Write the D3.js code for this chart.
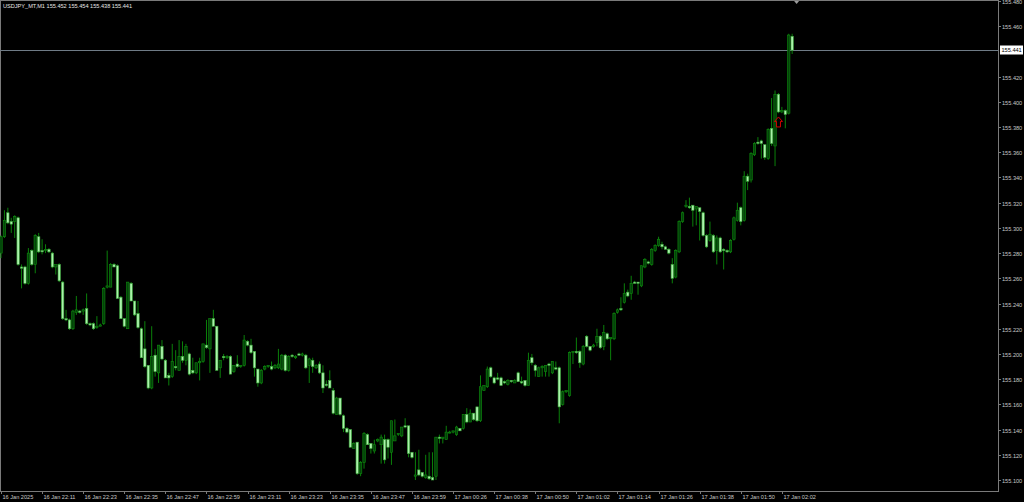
<!doctype html>
<html lang="en">
<head>
<meta charset="utf-8">
<title>USDJPY_MT,M1</title>
<script src="https://cdnjs.cloudflare.com/ajax/libs/d3/7.8.5/d3.min.js"></script>
<style>
  html, body { margin: 0; padding: 0; background: #000; }
  svg { display: block; }
  text { font-family: "Liberation Sans", "DejaVu Sans", sans-serif; }
</style>
</head>
<body>
<script>
// M1 bars, oldest first
var opens = [
  155.280,155.293,155.312,155.305,155.305,155.308,155.269,155.269,155.256,155.282,
  155.271,155.293,155.282,155.282,155.283,155.280,155.269,155.271,155.257,155.228,
  155.227,155.220,155.233,155.234,155.234,155.236,155.224,155.224,155.221,155.222,
  155.224,155.253,155.253,155.271,155.270,155.245,155.228,155.220,155.256,155.242,
  155.232,155.220,155.204,155.191,155.173,155.199,155.185,155.206,155.195,155.183,
  155.182,155.190,155.187,155.198,155.195,155.200,155.187,155.185,155.193,155.194,
  155.207,155.204,155.228,155.222,155.189,155.198,155.197,155.198,155.186,155.192,
  155.190,155.191,155.210,155.207,155.202,155.188,155.177,155.188,155.190,155.190,
  155.189,155.189,155.188,155.199,155.187,155.199,155.197,155.200,155.199,155.199,
  155.191,155.195,155.189,155.192,155.185,155.176,155.179,155.171,155.152,155.165,
  155.151,155.141,155.140,155.125,155.130,155.105,155.114,155.136,155.129,155.123,
  155.131,155.128,155.132,155.132,155.122,155.131,155.136,155.135,155.143,155.143,
  155.122,155.103,155.108,155.106,155.102,155.103,155.102,155.103,155.134,155.133,
  155.132,155.138,155.138,155.136,155.141,155.141,155.152,155.146,155.153,155.158,
  155.147,155.171,155.174,155.189,155.181,155.181,155.181,155.178,155.176,155.179,
  155.177,155.185,155.178,155.179,155.175,155.197,155.191,155.182,155.189,155.186,
  155.192,155.185,155.189,155.189,155.160,155.170,155.167,155.201,155.202,155.202,
  155.192,155.214,155.206,155.206,155.209,155.214,155.206,155.216,155.212,155.212,
  155.233,155.236,155.241,155.249,155.248,155.257,155.257,155.254,155.269,155.273,
  155.271,155.282,155.286,155.287,155.285,155.283,155.271,155.261,155.281,155.305,
  155.317,155.317,155.318,155.315,155.316,155.312,155.294,155.290,155.294,155.282,
  155.292,155.283,155.282,155.281,155.291,155.306,155.316,155.306,155.341,155.338,
  155.358,155.368,155.369,155.366,155.355,155.379,155.365,155.406,155.392,155.393,
  155.391,155.452
];
var highs = [
  155.294,155.314,155.316,155.308,155.310,155.309,155.271,155.270,155.284,155.283,
  155.295,155.296,155.291,155.287,155.284,155.281,155.271,155.272,155.258,155.235,
  155.228,155.235,155.246,155.235,155.236,155.248,155.225,155.225,155.230,155.224,
  155.253,155.282,155.272,155.272,155.271,155.246,155.228,155.257,155.257,155.242,
  155.242,155.221,155.226,155.191,155.222,155.204,155.207,155.211,155.196,155.185,
  155.208,155.203,155.211,155.210,155.208,155.201,155.197,155.193,155.197,155.208,
  155.227,155.228,155.235,155.222,155.195,155.200,155.199,155.199,155.191,155.199,
  155.191,155.215,155.211,155.212,155.202,155.188,155.188,155.191,155.191,155.194,
  155.192,155.204,155.200,155.200,155.199,155.200,155.199,155.201,155.201,155.200,
  155.197,155.197,155.192,155.194,155.191,155.179,155.187,155.173,155.166,155.165,
  155.152,155.142,155.140,155.130,155.130,155.115,155.138,155.137,155.129,155.132,
  155.133,155.136,155.136,155.133,155.147,155.148,155.137,155.142,155.149,155.143,
  155.122,155.122,155.124,155.106,155.120,155.122,155.122,155.134,155.136,155.134,
  155.143,155.139,155.139,155.143,155.141,155.152,155.157,155.156,155.153,155.158,
  155.183,155.175,155.190,155.190,155.182,155.185,155.182,155.179,155.180,155.179,
  155.180,155.186,155.182,155.179,155.201,155.200,155.192,155.190,155.191,155.191,
  155.193,155.194,155.194,155.190,155.171,155.171,155.202,155.202,155.213,155.203,
  155.207,155.215,155.206,155.208,155.220,155.215,155.223,155.217,155.213,155.233,
  155.236,155.245,155.256,155.251,155.262,155.258,155.257,155.270,155.276,155.274,
  155.284,155.287,155.293,155.289,155.286,155.284,155.276,155.283,155.306,155.313,
  155.322,155.324,155.318,155.317,155.316,155.313,155.295,155.305,155.295,155.294,
  155.293,155.284,155.283,155.291,155.309,155.320,155.317,155.345,155.343,155.360,
  155.368,155.372,155.370,155.366,155.379,155.403,155.409,155.407,155.396,155.394,
  155.454,155.454
];
var lows = [
  155.276,155.292,155.303,155.296,155.292,155.270,155.252,155.255,155.255,155.270,
  155.264,155.280,155.279,155.280,155.280,155.268,155.263,155.257,155.227,155.226,
  155.219,155.219,155.231,155.232,155.231,155.223,155.222,155.219,155.220,155.222,
  155.223,155.252,155.253,155.269,155.244,155.228,155.221,155.220,155.242,155.230,
  155.220,155.197,155.189,155.172,155.172,155.182,155.177,155.195,155.181,155.175,
  155.181,155.187,155.187,155.193,155.191,155.183,155.184,155.184,155.179,155.193,
  155.204,155.185,155.222,155.187,155.181,155.195,155.196,155.184,155.185,155.189,
  155.189,155.190,155.206,155.200,155.182,155.174,155.176,155.187,155.189,155.187,
  155.188,155.188,155.187,155.186,155.186,155.197,155.196,155.199,155.198,155.188,
  155.177,155.185,155.188,155.184,155.169,155.174,155.173,155.152,155.152,155.151,
  155.138,155.137,155.126,155.125,155.104,155.103,155.109,155.128,155.121,155.121,
  155.130,155.113,155.113,155.117,155.112,155.131,155.135,155.134,155.141,155.118,
  155.117,155.100,155.103,155.102,155.101,155.100,155.100,155.100,155.129,155.129,
  155.132,155.137,155.137,155.135,155.139,155.140,155.145,155.146,155.147,155.146,
  155.146,155.171,155.173,155.181,155.176,155.179,155.175,155.176,155.175,155.177,
  155.177,155.178,155.176,155.174,155.175,155.191,155.182,155.182,155.182,155.182,
  155.182,155.184,155.187,155.145,155.159,155.169,155.166,155.192,155.200,155.189,
  155.191,155.205,155.202,155.205,155.206,155.204,155.203,155.211,155.195,155.211,
  155.232,155.234,155.240,155.245,155.243,155.256,155.247,155.253,155.268,155.271,
  155.270,155.281,155.285,155.283,155.283,155.279,155.256,155.260,155.280,155.304,
  155.316,155.315,155.301,155.302,155.290,155.293,155.284,155.289,155.280,155.271,
  155.280,155.267,155.280,155.280,155.290,155.305,155.302,155.305,155.330,155.336,
  155.357,155.366,155.355,155.354,155.354,155.365,155.349,155.391,155.391,155.379,
  155.390,155.438
];
var closes = [
  155.293,155.306,155.304,155.303,155.309,155.271,155.268,155.256,155.280,155.271,
  155.294,155.281,155.281,155.283,155.281,155.269,155.271,155.258,155.228,155.227,
  155.220,155.234,155.235,155.233,155.235,155.224,155.223,155.220,155.222,155.223,
  155.252,155.254,155.271,155.269,155.244,155.228,155.222,155.257,155.242,155.231,
  155.221,155.197,155.190,155.173,155.198,155.186,155.207,155.196,155.181,155.181,
  155.194,155.189,155.198,155.195,155.206,155.184,155.185,155.193,155.194,155.208,
  155.205,155.228,155.222,155.187,155.195,155.197,155.198,155.184,155.191,155.190,
  155.191,155.211,155.207,155.201,155.189,155.177,155.187,155.190,155.191,155.188,
  155.191,155.192,155.199,155.187,155.198,155.198,155.198,155.199,155.200,155.189,
  155.196,155.190,155.191,155.185,155.173,155.175,155.173,155.153,155.165,155.152,
  155.141,155.138,155.126,155.129,155.105,155.114,155.137,155.128,155.125,155.128,
  155.132,155.134,155.116,155.126,155.147,155.135,155.137,155.142,155.142,155.121,
  155.118,155.104,155.104,155.103,155.104,155.101,155.100,155.134,155.133,155.134,
  155.138,155.138,155.139,155.142,155.139,155.152,155.146,155.153,155.148,155.147,
  155.174,155.175,155.188,155.182,155.177,155.180,155.175,155.177,155.179,155.178,
  155.179,155.178,155.177,155.175,155.195,155.193,155.187,155.189,155.190,155.191,
  155.191,155.194,155.188,155.158,155.170,155.171,155.201,155.202,155.201,155.193,
  155.206,155.206,155.203,155.207,155.214,155.205,155.217,155.212,155.213,155.232,
  155.235,155.235,155.248,155.246,155.256,155.256,155.256,155.270,155.275,155.272,
  155.283,155.286,155.291,155.285,155.283,155.280,155.260,155.282,155.305,155.312,
  155.318,155.316,155.314,155.317,155.313,155.294,155.285,155.295,155.281,155.292,
  155.281,155.282,155.281,155.290,155.308,155.314,155.305,155.341,155.337,155.359,
  155.367,155.367,155.367,155.356,155.378,155.367,155.406,155.392,155.393,155.390,
  155.453,155.441
];

// time axis labels every 12 bars
var timeLabels = ["16 Jan 2025","16 Jan 22:11","16 Jan 22:23","16 Jan 22:35","16 Jan 22:47",
  "16 Jan 22:59","16 Jan 23:11","16 Jan 23:23","16 Jan 23:35","16 Jan 23:47","16 Jan 23:59",
  "17 Jan 00:26","17 Jan 00:38","17 Jan 00:50","17 Jan 01:02","17 Jan 01:14","17 Jan 01:26",
  "17 Jan 01:38","17 Jan 01:50","17 Jan 02:02"];
var labelStep = 12;

var priceTicks = [155.100,155.120,155.140,155.160,155.180,155.200,155.220,155.240,155.260,
  155.280,155.300,155.320,155.340,155.360,155.380,155.400,155.420,155.440,155.460,155.480];
// 155.440 is hidden behind the bid label in the terminal
var hiddenTicks = [155.440];

var symbol = "USDJPY_MT,M1";
var buyArrowBar = 227, buyArrowPrice = 155.388;

var width = 1024, height = 502;
var plotRight = 998, plotBottom = 491;
var n = closes.length;

var svg = d3.select("body").append("svg")
    .attr("width", width).attr("height", height)
    .style("background", "#000");

var x = d3.scaleLinear().domain([0, 291.1]).range([1, plotRight]);
var y = d3.scaleLinear().domain([155.100, 155.480]).range([480, 1]);

var bars = d3.range(n).map(function(i){
    return {i: i, o: opens[i], h: highs[i], l: lows[i], c: closes[i]};
});

// frame
svg.append("rect")
    .attr("x", 0.5).attr("y", 0.5)
    .attr("width", plotRight).attr("height", plotBottom)
    .attr("fill", "none").attr("stroke", "#7a7a7a").attr("stroke-width", 1);

// bid line
var last = bars[n-1];
svg.append("line")
    .attr("x1", 0).attr("x2", plotRight)
    .attr("y1", Math.round(y(last.c)) + 0.5).attr("y2", Math.round(y(last.c)) + 0.5)
    .attr("stroke", "#6f7b86").attr("stroke-width", 1);

// wicks
svg.append("g").selectAll("line")
    .data(bars).enter().append("line")
    .attr("x1", function(d){ return x(d.i); })
    .attr("x2", function(d){ return x(d.i); })
    .attr("y1", function(d){ return y(d.h); })
    .attr("y2", function(d){ return y(d.l); })
    .attr("stroke", "#0a800a").attr("stroke-width", 1);

// bodies
var bodyW = 2.4;
svg.append("g").selectAll("rect")
    .data(bars).enter().append("rect")
    .attr("x", function(d){ return x(d.i) - bodyW/2; })
    .attr("y", function(d){ return y(Math.max(d.o, d.c)); })
    .attr("width", bodyW)
    .attr("height", function(d){ return Math.max(1, Math.abs(y(d.o) - y(d.c))); })
    .attr("fill", function(d){ return d.c >= d.o ? "#04420a" : "#aaf2aa"; })
    .attr("stroke", function(d){ return d.c >= d.o ? "#0e8e0e" : "#3aa83a"; })
    .attr("stroke-width", 0.6);

// buy arrow
var ax = x(buyArrowBar), ay = y(buyArrowPrice);
svg.append("path")
    .attr("d", "M" + ax + "," + ay + " l4,4.5 h-2 v5.5 h-4 v-5.5 h-2 z")
    .attr("fill", "none").attr("stroke", "#d40000").attr("stroke-width", 1);

// chart shift marker
var sx = x(n + 0.3);
svg.append("path")
    .attr("d", "M" + (sx - 2.5) + ",1 L" + (sx + 2.5) + ",1 L" + sx + ",4 z")
    .attr("fill", "#9a9a9a");

// price axis
var pa = svg.append("g");
priceTicks.filter(function(p){ return hiddenTicks.indexOf(p) < 0; }).forEach(function(p){
    var yy = Math.round(y(p)) + 0.5;
    pa.append("line").attr("x1", plotRight).attr("x2", plotRight + 3)
        .attr("y1", yy).attr("y2", yy).attr("stroke", "#7a7a7a");
    pa.append("text").attr("x", plotRight + 4).attr("y", yy + 2)
        .attr("font-size", "5.6px").attr("fill", "#c8c8c8")
        .text(p.toFixed(3));
});

// bid label
var by = Math.round(y(last.c));
svg.append("rect").attr("x", plotRight + 2).attr("y", by - 4.5)
    .attr("width", 23).attr("height", 9).attr("fill", "#fff");
svg.append("text").attr("x", plotRight + 3.5).attr("y", by + 2)
    .attr("font-size", "5.6px").attr("fill", "#000")
    .text(last.c.toFixed(3));

// time axis
var ta = svg.append("g");
timeLabels.forEach(function(t, k){
    var xx = Math.round(x(k * labelStep)) + 0.5;
    ta.append("line").attr("x1", xx).attr("x2", xx)
        .attr("y1", plotBottom).attr("y2", plotBottom + 3).attr("stroke", "#7a7a7a");
    ta.append("text").attr("x", xx + 1).attr("y", plotBottom + 8)
        .attr("font-size", "5.6px").attr("fill", "#c8c8c8")
        .text(t);
});

// header
svg.append("text").attr("x", 3).attr("y", 8)
    .attr("font-size", "5.6px").attr("fill", "#e6e6e6")
    .text(symbol + "  " + [last.o, last.h, last.l, last.c].map(function(v){ return v.toFixed(3); }).join(" "));
</script>
</body>
</html>
